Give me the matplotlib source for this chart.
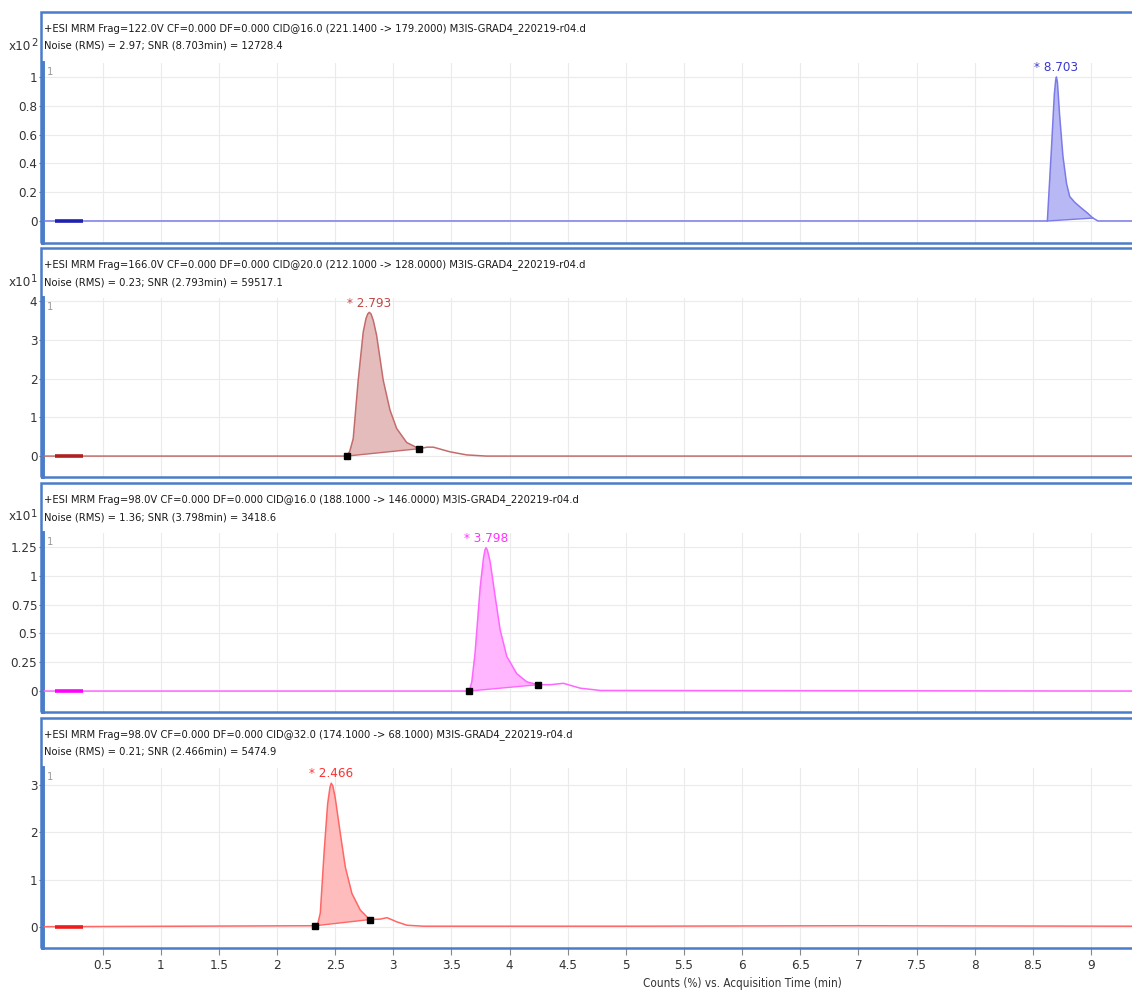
import matplotlib
matplotlib.use("Agg")
import matplotlib.pyplot as plt
from matplotlib import font_manager
from matplotlib.patches import Rectangle
import numpy as np

W, H = 1132, 990

# chromatogram traces (time in min, counts scaled)
t_blue = [0.0, 8.625, 8.66, 8.685, 8.697, 8.703, 8.712, 8.73, 8.759, 8.79, 8.817, 8.86, 8.917,
          8.97, 9.017, 9.06, 9.36]
y_blue = [0.0, 0.0, 0.5, 0.88, 0.98, 1.0, 0.96, 0.74, 0.45, 0.26, 0.17, 0.13, 0.09,
          0.055, 0.02, 0.0, 0.0]

t_brown = [0.0, 2.598, 2.625, 2.655, 2.698, 2.741, 2.765, 2.78, 2.793, 2.808, 2.828, 2.856,
           2.913, 2.971, 3.029, 3.115, 3.221, 3.29, 3.344, 3.487, 3.631, 3.8, 9.36]
y_brown = [0.0, 0.0, 0.12, 0.45, 1.96, 3.2, 3.55, 3.67, 3.71, 3.67, 3.5, 3.12,
           1.96, 1.19, 0.71, 0.35, 0.19, 0.23, 0.23, 0.11, 0.03, 0.0, 0.0]

t_pink = [0.0, 3.654, 3.675, 3.703, 3.747, 3.775, 3.788, 3.798, 3.81, 3.833, 3.876, 3.919,
          3.976, 4.062, 4.148, 4.243, 4.35, 4.463, 4.607, 4.78, 9.36]
y_pink = [0.0, 0.0, 0.08, 0.33, 0.9, 1.15, 1.225, 1.245, 1.22, 1.12, 0.82, 0.53,
          0.30, 0.15, 0.08, 0.055, 0.055, 0.067, 0.025, 0.005, 0.0]

t_red = [0.0, 1.2, 2.329, 2.35, 2.372, 2.406, 2.435, 2.455, 2.466, 2.48, 2.501, 2.544, 2.587,
         2.644, 2.716, 2.796, 2.888, 2.946, 3.032, 3.118, 3.26, 5.0, 7.0, 9.36]
y_red = [0.01, 0.02, 0.03, 0.07, 0.3, 1.63, 2.6, 2.95, 3.04, 2.98, 2.72, 1.98, 1.27,
         0.71, 0.36, 0.16, 0.17, 0.2, 0.11, 0.04, 0.02, 0.02, 0.03, 0.02]

# integration limits (start, end) of each peak
blue_limits = (8.625, 9.017)
brown_limits = (2.598, 3.221)
pink_limits = (3.654, 4.243)
red_limits = (2.329, 2.796)

apex_labels = ["8.703", "2.793", "3.798", "2.466"]
apex_times = [8.703, 2.793, 3.798, 2.466]

headers = [
    ("+ESI MRM Frag=122.0V CF=0.000 DF=0.000 CID@16.0 (221.1400 -> 179.2000) M3IS-GRAD4_220219-r04.d",
     "Noise (RMS) = 2.97; SNR (8.703min) = 12728.4"),
    ("+ESI MRM Frag=166.0V CF=0.000 DF=0.000 CID@20.0 (212.1000 -> 128.0000) M3IS-GRAD4_220219-r04.d",
     "Noise (RMS) = 0.23; SNR (2.793min) = 59517.1"),
    ("+ESI MRM Frag=98.0V CF=0.000 DF=0.000 CID@16.0 (188.1000 -> 146.0000) M3IS-GRAD4_220219-r04.d",
     "Noise (RMS) = 1.36; SNR (3.798min) = 3418.6"),
    ("+ESI MRM Frag=98.0V CF=0.000 DF=0.000 CID@32.0 (174.1000 -> 68.1000) M3IS-GRAD4_220219-r04.d",
     "Noise (RMS) = 0.21; SNR (2.466min) = 5474.9"),
]
exponents = ["2", "1", "1", None]

y_ticks = [
    [0, 0.2, 0.4, 0.6, 0.8, 1.0],
    [0, 1, 2, 3, 4],
    [0, 0.25, 0.5, 0.75, 1.0, 1.25],
    [0, 1, 2, 3],
]
y_tick_labels = [
    ["0", "0.2", "0.4", "0.6", "0.8", "1"],
    ["0", "1", "2", "3", "4"],
    ["0", "0.25", "0.5", "0.75", "1", "1.25"],
    ["0", "1", "2", "3"],
]
y_limits = [(-0.153, 1.097), (-0.54, 4.08), (-0.182, 1.372), (-0.44, 3.36)]

x_ticks = [0.5, 1, 1.5, 2, 2.5, 3, 3.5, 4, 4.5, 5, 5.5, 6, 6.5, 7, 7.5, 8, 8.5, 9]
x_tick_labels = ["0.5", "1", "1.5", "2", "2.5", "3", "3.5", "4", "4.5", "5", "5.5",
                 "6", "6.5", "7", "7.5", "8", "8.5", "9"]

traces = [(t_blue, y_blue, blue_limits), (t_brown, y_brown, brown_limits),
          (t_pink, y_pink, pink_limits), (t_red, y_red, red_limits)]
line_colors = ["#7b7be8", "#c46c6c", "#ff66ff", "#ff6666"]
fill_colors = ["#b8b8f5", "#e4bcbc", "#ffb6ff", "#ffbcbc"]
noise_colors = ["#1f1fb0", "#b02020", "#ff00ff", "#ee1c1c"]
label_colors = ["#3838d0", "#c04848", "#ff33ff", "#ff3030"]
show_markers = [False, True, True, True]

# panel geometry in picture pixels: box top, plot top, bottom
boxes = [(12, 63, 243), (248, 298, 477), (483, 533, 712), (718, 768, 948)]
frame_blue = "#4a7cc9"
x_left, x_right = 43, 1132


def pick_narrow_font():
    # prefer an Arial Narrow look-alike, then a condensed sans
    for f in font_manager.fontManager.ttflist:
        if f.name == "Liberation Sans Narrow" and f.style == "normal" and f.weight in (400, "normal"):
            return font_manager.FontProperties(fname=f.fname)
    for f in font_manager.fontManager.ttflist:
        if f.name == "DejaVu Sans" and f.stretch == "condensed" and f.style == "normal" \
                and f.weight in (400, "normal"):
            return font_manager.FontProperties(fname=f.fname)
    return font_manager.FontProperties(family="Liberation Sans")


base_font = pick_narrow_font()

fig = plt.figure(figsize=(W / 100, H / 100), dpi=100)
renderer = fig.canvas.get_renderer()

# size the header font so the first line spans about the same width as in the picture
probe = fig.text(0, 0, headers[0][0], fontproperties=base_font, fontsize=10)
scale = 545 / probe.get_window_extent(renderer).width
probe.remove()
head_size = 10 * scale
tick_size = head_size * 1.2


def font(size):
    fp = base_font.copy()
    fp.set_size(size)
    return fp


for i, (box_top, plot_top, bottom) in enumerate(boxes):
    t, y, (t0, t1) = traces[i]
    t = np.array(t)
    y = np.array(y)
    ax = fig.add_axes([x_left / W, 1 - bottom / H, (x_right - x_left) / W, (bottom - plot_top) / H])
    ax.set_xlim(-0.013, 9.353)
    ax.set_ylim(*y_limits[i])

    ax.plot(t, y, color=line_colors[i], lw=1.1, zorder=3)
    seg = (t >= t0) & (t <= t1)
    ax.fill(np.r_[t[seg], t1, t0], np.r_[y[seg], y[seg][-1], y[seg][0]],
            color=fill_colors[i], lw=0, zorder=2)
    ax.plot([t0, t1], [y[seg][0], y[seg][-1]], color=line_colors[i], lw=1.0, zorder=3)
    if show_markers[i]:
        ax.plot([t0, t1], [y[seg][0], y[seg][-1]], ls="none", marker="s", ms=5,
                color="black", zorder=4)
    ax.plot([0.09, 0.33], [0, 0], color=noise_colors[i], lw=2.6, zorder=4,
            solid_capstyle="butt")

    y_apex = y[np.argmin(np.abs(t - apex_times[i]))]
    ax.annotate("* " + apex_labels[i], (apex_times[i], y_apex), xytext=(0, 2),
                textcoords="offset points", ha="center", va="bottom",
                fontproperties=font(tick_size), color=label_colors[i])

    ax.set_xticks(x_ticks)
    ax.set_yticks(y_ticks[i])
    ax.set_yticklabels(y_tick_labels[i], fontproperties=font(tick_size))
    ax.grid(True, color="#ebebeb", lw=0.8, zorder=0)
    ax.set_axisbelow(True)
    for side in ("top", "right", "bottom"):
        ax.spines[side].set_visible(False)
    ax.spines["left"].set_color(frame_blue)
    ax.spines["left"].set_linewidth(2.8)
    ax.tick_params(axis="y", direction="out", length=3, width=0.8, color="#666",
                   labelcolor="#333", pad=1)
    if i == 3:
        ax.set_xticklabels(x_tick_labels, fontproperties=font(tick_size))
        ax.tick_params(axis="x", direction="out", length=5, width=0.8, color="#888",
                       labelcolor="#333", pad=3)
    else:
        ax.tick_params(axis="x", length=0, labelbottom=False)

    fig.text((x_left + 4) / W, 1 - (plot_top + 9) / H, "1", fontproperties=font(head_size),
             color="#999", va="center", ha="left")

    fig.add_artist(Rectangle((41 / W, 1 - bottom / H), 1.2 - 41 / W, (bottom - box_top) / H,
                             fill=False, edgecolor=frame_blue, lw=1.8,
                             transform=fig.transFigure, zorder=5))

    line1, line2 = headers[i]
    fig.text(44 / W, 1 - (box_top + 17) / H, line1, fontproperties=font(head_size),
             color="#1a1a1a", va="center")
    fig.text(44 / W, 1 - (box_top + 34) / H, line2, fontproperties=font(head_size),
             color="#1a1a1a", va="center")
    if exponents[i]:
        fig.text(9 / W, 1 - (box_top + 34) / H, "x10", fontproperties=font(tick_size),
                 color="#333", va="center")
        fig.text(31 / W, 1 - (box_top + 31) / H, exponents[i], fontproperties=font(head_size),
                 color="#333", va="center")

fig.text(742 / W, 1 - 983 / H, "Counts (%) vs. Acquisition Time (min)",
         fontproperties=font(head_size * 1.05), color="#333", ha="center", va="center")

fig.savefig("out.png", dpi=100)
